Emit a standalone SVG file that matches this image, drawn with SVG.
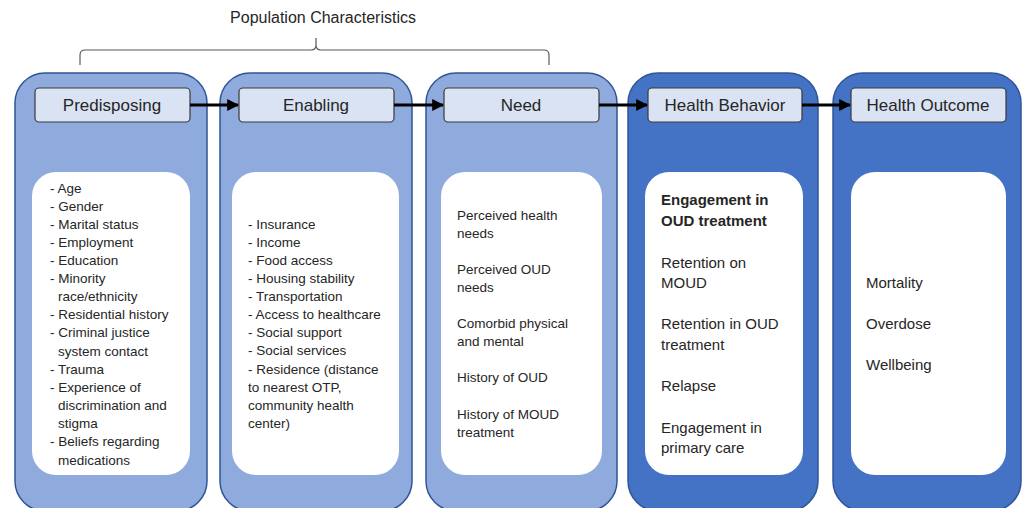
<svg xmlns="http://www.w3.org/2000/svg" width="1022" height="508" viewBox="0 0 1022 508">
<defs>
<marker id="ah" viewBox="0 0 10 10" refX="9" refY="5" markerWidth="4" markerHeight="4" markerUnits="strokeWidth" orient="auto">
<path d="M0,0 L10,5 L0,10 z" fill="#000"/>
</marker>
<style>
.colL{fill:#8faadc;stroke:#2f5597;stroke-width:1.5}
.colD{fill:#4472c4;stroke:#2f5597;stroke-width:1.5}
.hdr{fill:#dae3f3;stroke:#3a3a3a;stroke-width:1.2}
.inner{fill:#ffffff;stroke:none}
.ht{font-family:"Liberation Sans",Arial,sans-serif;font-size:17px;fill:#262626;text-anchor:middle}
.bt{font-family:"Liberation Sans",Arial,sans-serif;font-size:13.5px;fill:#262626}
.bt2{font-family:"Liberation Sans",Arial,sans-serif;font-size:15px;fill:#262626}
.b{font-weight:bold}
.con{stroke:#000;stroke-width:3;fill:none;marker-end:url(#ah)}
</style>
</defs>
<rect width="1022" height="508" fill="#ffffff"/>
<g id="title">
<text x="323" y="23" style="font-family:'Liberation Sans',Arial,sans-serif;font-size:16px;fill:#262626" text-anchor="middle">Population Characteristics</text>
<path d="M80,65 V55 Q80,50 85,50 H311 Q316,50 316,45 V38 M316,45 Q316,50 321,50 H544 Q549,50 549,55 V65" fill="none" stroke="#595959" stroke-width="1.2"/>
</g>
<g id="predisposing">
<rect class="colL" x="15" y="73" width="192" height="438" rx="30"/>
<rect class="hdr" x="35" y="88" width="155" height="34" rx="4"/>
<text class="ht" x="112" y="111">Predisposing</text>
<rect class="inner" x="32" y="172" width="158" height="303" rx="24"/>
<text class="bt">
<tspan x="50" y="193">- Age</tspan>
<tspan x="50" y="211">- Gender</tspan>
<tspan x="50" y="229">- Marital status</tspan>
<tspan x="50" y="247">- Employment</tspan>
<tspan x="50" y="265">- Education</tspan>
<tspan x="50" y="283">- Minority</tspan>
<tspan x="58" y="301">race/ethnicity</tspan>
<tspan x="50" y="319">- Residential history</tspan>
<tspan x="50" y="337">- Criminal justice</tspan>
<tspan x="58" y="356">system contact</tspan>
<tspan x="50" y="374">- Trauma</tspan>
<tspan x="50" y="392">- Experience of</tspan>
<tspan x="58" y="410">discrimination and</tspan>
<tspan x="58" y="428">stigma</tspan>
<tspan x="50" y="446">- Beliefs regarding</tspan>
<tspan x="58" y="465">medications</tspan>
</text>
</g>
<g id="enabling">
<rect class="colL" x="220" y="73" width="192" height="438" rx="30"/>
<rect class="hdr" x="239" y="88" width="155" height="34" rx="4"/>
<text class="ht" x="316" y="111">Enabling</text>
<rect class="inner" x="232" y="172" width="167" height="303" rx="24"/>
<text class="bt">
<tspan x="248" y="229">- Insurance</tspan>
<tspan x="248" y="247">- Income</tspan>
<tspan x="248" y="265">- Food access</tspan>
<tspan x="248" y="283">- Housing stability</tspan>
<tspan x="248" y="301">- Transportation</tspan>
<tspan x="248" y="319">- Access to healthcare</tspan>
<tspan x="248" y="337">- Social support</tspan>
<tspan x="248" y="355">- Social services</tspan>
<tspan x="248" y="374">- Residence (distance</tspan>
<tspan x="248" y="392">to nearest OTP,</tspan>
<tspan x="248" y="410">community health</tspan>
<tspan x="248" y="428">center)</tspan>
</text>
</g>
<g id="need">
<rect class="colL" x="426" y="73" width="191" height="438" rx="30"/>
<rect class="hdr" x="444" y="88" width="155" height="34" rx="4"/>
<text class="ht" x="521" y="111">Need</text>
<rect class="inner" x="441" y="172" width="161" height="303" rx="24"/>
<text class="bt">
<tspan x="457" y="220">Perceived health</tspan>
<tspan x="457" y="238">needs</tspan>
<tspan x="457" y="274">Perceived OUD</tspan>
<tspan x="457" y="292">needs</tspan>
<tspan x="457" y="328">Comorbid physical</tspan>
<tspan x="457" y="346">and mental</tspan>
<tspan x="457" y="382">History of OUD</tspan>
<tspan x="457" y="419">History of MOUD</tspan>
<tspan x="457" y="437">treatment</tspan>
</text>
</g>
<g id="health-behavior">
<rect class="colD" x="628" y="73" width="190" height="438" rx="30"/>
<rect class="hdr" x="648" y="88" width="154" height="34" rx="4"/>
<text class="ht" x="725" y="111">Health Behavior</text>
<rect class="inner" x="645" y="172" width="158" height="303" rx="24"/>
<text class="bt2">
<tspan class="b" x="661" y="205">Engagement in</tspan>
<tspan class="b" x="661" y="226">OUD treatment</tspan>
<tspan x="661" y="268">Retention on</tspan>
<tspan x="661" y="288">MOUD</tspan>
<tspan x="661" y="329">Retention in OUD</tspan>
<tspan x="661" y="350">treatment</tspan>
<tspan x="661" y="391">Relapse</tspan>
<tspan x="661" y="433">Engagement in</tspan>
<tspan x="661" y="453">primary care</tspan>
</text>
</g>
<g id="health-outcome">
<rect class="colD" x="833" y="73" width="188" height="438" rx="30"/>
<rect class="hdr" x="851" y="88" width="155" height="34" rx="4"/>
<text class="ht" x="928" y="111">Health Outcome</text>
<rect class="inner" x="851" y="172" width="155" height="303" rx="24"/>
<text class="bt2">
<tspan x="866" y="288">Mortality</tspan>
<tspan x="866" y="329">Overdose</tspan>
<tspan x="866" y="370">Wellbeing</tspan>
</text>
</g>
<g id="connectors">
<line class="con" x1="190" y1="105" x2="238" y2="105"/>
<line class="con" x1="394" y1="105" x2="443" y2="105"/>
<line class="con" x1="599" y1="105" x2="647" y2="105"/>
<line class="con" x1="802" y1="105" x2="850" y2="105"/>
</g>
</svg>
